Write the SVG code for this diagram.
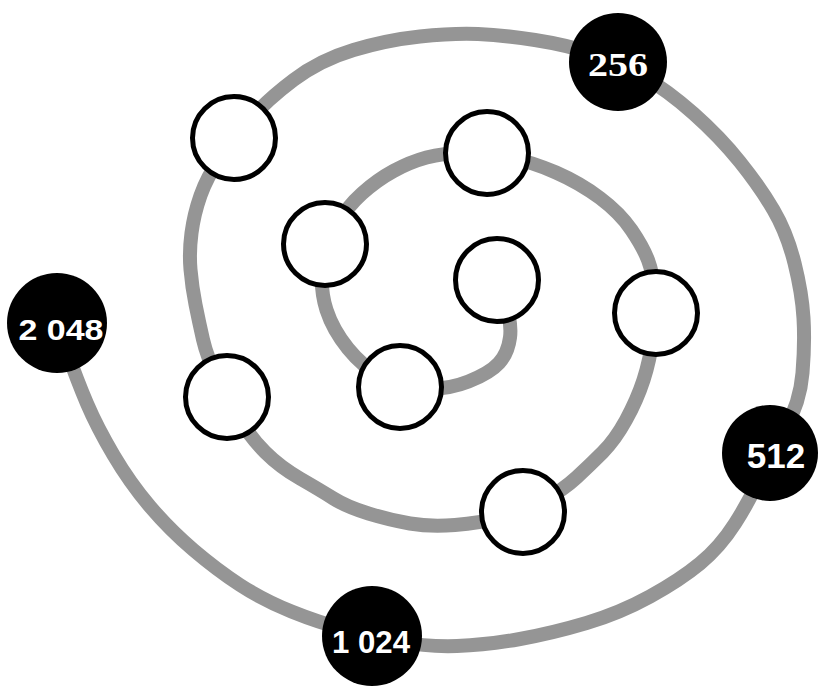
<svg xmlns="http://www.w3.org/2000/svg" width="819" height="686" viewBox="0 0 819 686">
<style>
.lnk{fill:none;stroke:#959595;stroke-width:14;stroke-linejoin:round;stroke-linecap:butt}
.w{fill:#fff;stroke:#000;stroke-width:5}
.b{fill:#000}
.t{fill:#fff;font-family:"Liberation Sans",Arial,sans-serif;font-weight:bold;text-anchor:middle}
.ts{fill:#fff;font-family:"Liberation Serif","Times New Roman",serif;font-weight:bold;text-anchor:middle}
</style>
<rect width="819" height="686" fill="#fff"/>
<g id="connectors">
<path class="lnk" d="M497,280 L504.5,301 Q512,322 510,337.5 Q508,353 499,363 Q490,373 468.5,381.5 Q447,390 423.5,388.5 L400,387"/>
<path class="lnk" d="M400,387 L381.5,377 Q363,367 348,348.5 Q333,330 326.5,310 Q320,290 322.5,267 L325,244"/>
<path class="lnk" d="M325,244 L336,225.5 Q347,207 362,193.5 Q377,180 393.5,171 Q410,162 426.5,157.5 Q443,153 465,153 L487,153"/>
<path class="lnk" d="M487,153 L509.5,157.5 Q532,162 556,172.5 Q580,183 600,198 Q620,213 631.5,230 Q643,247 648,260 Q653,273 654.5,293 L656,313"/>
<path class="lnk" d="M656,313 L653,336.5 Q650,360 643.5,380 Q637,400 626,420 Q615,440 602.5,452.5 Q590,465 576.5,477.5 Q563,490 543,501 L523,512"/>
<path class="lnk" d="M523,512 L501.5,517.5 Q480,523 455,525 Q430,527 410,523.5 Q390,520 368.5,513.5 Q347,507 333.5,498.5 Q320,490 300,478.5 Q280,467 265,452 Q250,437 238.5,417 L227,397"/>
<path class="lnk" d="M227,397 L217,377 Q207,357 203,339.5 Q199,322 195.5,304.5 Q192,287 190.5,269.5 Q189,252 191.5,233 Q194,214 200.5,195.5 Q207,177 220.5,157.5 L234,138"/>
<path class="lnk" d="M234,138 L250.5,119 Q267,100 293.5,80 Q320,60 353.5,50 Q387,40 420,36.5 Q453,33 478,34 Q503,35 535,40 Q567,45 592.5,53.5 L618,62"/>
<path class="lnk" d="M618,62 L642.5,76 Q667,90 693.5,113.5 Q720,137 740,162 Q760,187 773.5,210 Q787,233 794.5,263 Q802,293 803.5,318 Q805,343 802.5,373 Q800,403 785,429 L770,453"/>
<path class="lnk" d="M770,453 L760,477.5 Q750,500 735,523.5 Q720,547 700,563.5 Q680,580 650,596.5 Q620,613 586.5,623 Q553,633 520,639 Q487,645 457,646 Q427,647 399.5,641.5 L372,636"/>
<path class="lnk" d="M372,636 L346,629.5 Q320,623 291.5,611.5 Q263,600 240,585 Q217,570 193.5,550 Q170,530 150,506.5 Q130,483 113.5,455 Q97,427 87,403.5 Q77,380 67,351.5 L57,323"/>
</g>
<g id="n1"><circle class="w" cx="497" cy="280" r="41.5"/></g>
<g id="n2"><circle class="w" cx="400" cy="387" r="41.5"/></g>
<g id="n3"><circle class="w" cx="325" cy="244" r="41.5"/></g>
<g id="n4"><circle class="w" cx="487" cy="153" r="41.5"/></g>
<g id="n5"><circle class="w" cx="656" cy="313" r="41.5"/></g>
<g id="n6"><circle class="w" cx="523" cy="512" r="41.5"/></g>
<g id="n7"><circle class="w" cx="227" cy="397" r="41.5"/></g>
<g id="n8"><circle class="w" cx="234" cy="138" r="41.5"/></g>
<g id="n256"><circle class="b" cx="618" cy="62" r="49"/><text class="ts" x="618" y="76" font-size="34" textLength="60" lengthAdjust="spacingAndGlyphs">256</text></g>
<g id="n512"><circle class="b" cx="770" cy="453" r="48"/><text class="t" x="776" y="468" font-size="35">512</text></g>
<g id="n1024"><circle class="b" cx="372" cy="636" r="50"/><text class="t" x="371" y="653" font-size="32" textLength="78" lengthAdjust="spacingAndGlyphs">1 024</text></g>
<g id="n2048"><circle class="b" cx="57" cy="323" r="50"/><text class="t" x="61" y="340" font-size="29" textLength="85" lengthAdjust="spacingAndGlyphs">2 048</text></g>
</svg>
